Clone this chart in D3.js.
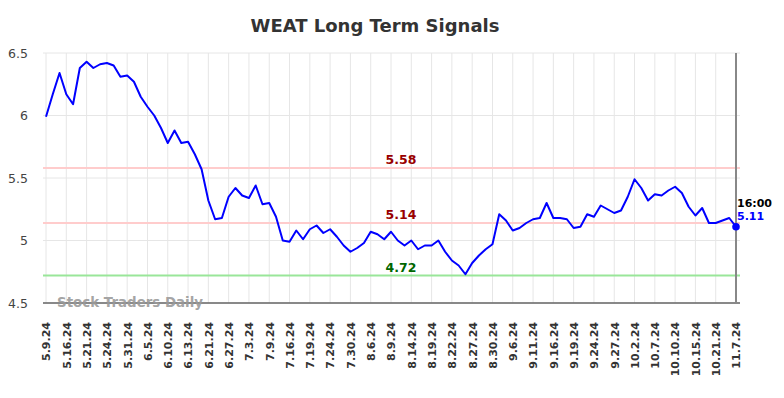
<!DOCTYPE html>
<html>
<head>
<meta charset="utf-8">
<script src="https://cdn.jsdelivr.net/npm/d3@7"></script>
<style>
  html, body { margin: 0; padding: 0; background: #fff; }
  svg { display: block; font-family: "DejaVu Sans", sans-serif; }
</style>
</head>
<body>
<svg id="chart" width="784" height="398"></svg>
<script>
// ---- data ----
const tickLabels = ["5.9.24","5.16.24","5.21.24","5.24.24","5.31.24","6.5.24","6.10.24","6.13.24","6.21.24","6.27.24","7.3.24","7.9.24","7.16.24","7.19.24","7.24.24","7.30.24","8.6.24","8.9.24","8.14.24","8.19.24","8.22.24","8.27.24","8.30.24","9.6.24","9.11.24","9.16.24","9.19.24","9.24.24","9.27.24","10.2.24","10.7.24","10.10.24","10.15.24","10.21.24","11.7.24"];
const prices = [5.99,6.17,6.34,6.17,6.09,6.38,6.43,6.38,6.41,6.42,6.40,6.31,6.32,6.27,6.15,6.07,6.00,5.90,5.78,5.88,5.78,5.79,5.69,5.57,5.32,5.17,5.18,5.35,5.42,5.36,5.34,5.44,5.29,5.30,5.19,5.00,4.99,5.08,5.01,5.09,5.12,5.06,5.09,5.03,4.96,4.91,4.94,4.98,5.07,5.05,5.01,5.07,5.00,4.96,5.00,4.93,4.96,4.96,5.00,4.91,4.84,4.80,4.73,4.82,4.88,4.93,4.97,5.21,5.16,5.08,5.10,5.14,5.17,5.18,5.30,5.18,5.18,5.17,5.10,5.11,5.21,5.19,5.28,5.25,5.22,5.24,5.35,5.49,5.42,5.32,5.37,5.36,5.40,5.43,5.38,5.27,5.20,5.26,5.14,5.14,5.16,5.18,5.11];
const pointsPerTick = 3;
const yTicks = [4.5, 5, 5.5, 6, 6.5];
const resistanceLevels = [5.58, 5.14];
const supportLevels = [4.72];
const lastTime = "16:00";
const title = "WEAT Long Term Signals";
const watermark = "Stock Traders Daily";

// ---- layout ----
const svg = d3.select("#chart");
const plotLeft = 43, plotRight = 740, plotTop = 53, plotBottom = 303;
const x = d3.scaleLinear().domain([0, prices.length - 1]).range([46, 736]);
const y = d3.scaleLinear().domain([4.5, 6.5]).range([plotBottom, plotTop]);

// title
svg.append("text").attr("x", 375).attr("y", 32).attr("text-anchor", "middle")
  .attr("font-size", 18).attr("font-weight", "bold").attr("fill", "#333").text(title);

// horizontal grid
svg.append("g").selectAll("line").data(yTicks).join("line")
  .attr("x1", plotLeft).attr("x2", plotRight)
  .attr("y1", d => y(d)).attr("y2", d => y(d))
  .attr("stroke", "#e6e6e6").attr("stroke-width", 1);

// vertical grid
const tickIdx = tickLabels.map((d, i) => i * pointsPerTick);
svg.append("g").selectAll("line").data(tickIdx).join("line")
  .attr("x1", d => x(d)).attr("x2", d => x(d))
  .attr("y1", plotTop).attr("y2", plotBottom)
  .attr("stroke", "#e6e6e6").attr("stroke-width", 1);

// y axis
const yAxis = svg.append("g").attr("transform", `translate(${plotLeft},0)`)
  .call(d3.axisLeft(y).tickValues(yTicks).tickFormat(d3.format("~g")).tickSize(0).tickPadding(15));
yAxis.select(".domain").remove();
yAxis.selectAll("text").attr("font-size", 12.5).attr("fill", "#444").attr("font-family", "DejaVu Sans");

// x axis
const xAxis = svg.append("g").attr("transform", `translate(0,${plotBottom})`)
  .call(d3.axisBottom(x).tickValues(tickIdx).tickFormat((d, i) => tickLabels[i]).tickSize(0));
xAxis.select(".domain").remove();
xAxis.selectAll("text")
  .attr("font-size", 11).attr("font-weight", "bold").attr("fill", "#333").attr("font-family", "DejaVu Sans")
  .attr("text-anchor", "end").attr("dy", "0.35em")
  .attr("transform", "translate(0,19) rotate(-90)").attr("x", 0).attr("y", 0);

svg.append("line").attr("x1", plotLeft).attr("x2", plotRight)
  .attr("y1", plotBottom).attr("y2", plotBottom).attr("stroke", "#666").attr("stroke-width", 1.5);

// signal lines
const levels = resistanceLevels.map(v => ({v, c: "#ffcccc", t: "#990000"}))
  .concat(supportLevels.map(v => ({v, c: "#99e699", t: "#006600"})));
svg.append("g").selectAll("line").data(levels).join("line")
  .attr("x1", plotLeft).attr("x2", plotRight)
  .attr("y1", d => y(d.v)).attr("y2", d => y(d.v))
  .attr("stroke", d => d.c).attr("stroke-width", 2);
svg.append("g").selectAll("text").data(levels).join("text")
  .attr("x", 401).attr("y", d => y(d.v) - 4).attr("text-anchor", "middle")
  .attr("font-size", 12.5).attr("font-weight", "bold").attr("fill", d => d.t)
  .text(d => d.v.toFixed(2));

// watermark
svg.append("text").attr("x", 57).attr("y", 307).attr("font-size", 13.4).attr("font-weight", "bold")
  .attr("fill", "#999").attr("fill-opacity", 0.9).text(watermark);

// right vertical line
svg.append("line").attr("x1", x(prices.length - 1)).attr("x2", x(prices.length - 1))
  .attr("y1", plotTop).attr("y2", plotBottom).attr("stroke", "#888").attr("stroke-width", 2);

// price line
svg.append("path").datum(prices)
  .attr("d", d3.line().x((d, i) => x(i)).y(d => y(d)))
  .attr("fill", "none").attr("stroke", "#0000ff").attr("stroke-width", 2).attr("stroke-linejoin", "round");

// last point
const li = prices.length - 1;
svg.append("circle").attr("cx", x(li)).attr("cy", y(prices[li])).attr("r", 3.8).attr("fill", "#0000ff");
svg.append("text").attr("x", x(li) + 1).attr("y", y(prices[li]) - 20).attr("font-size", 11)
  .attr("font-weight", "bold").attr("fill", "#000").text(lastTime);
svg.append("text").attr("x", x(li) + 1).attr("y", y(prices[li]) - 7).attr("font-size", 11)
  .attr("font-weight", "bold").attr("fill", "#0000ff").text(prices[li].toFixed(2));
</script>
</body>
</html>
